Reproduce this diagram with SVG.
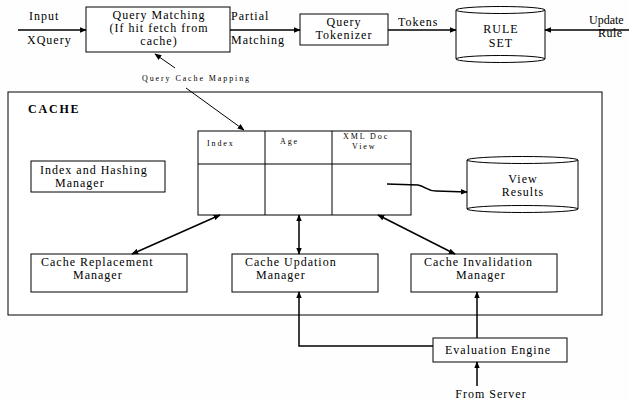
<svg xmlns="http://www.w3.org/2000/svg" width="629" height="402" viewBox="0 0 629 402">
<defs>
<marker id="ah" viewBox="0 0 10 10" refX="9" refY="5" markerWidth="7" markerHeight="7" orient="auto-start-reverse" markerUnits="userSpaceOnUse">
<path d="M0,1 L10,5 L0,9 z" fill="#000"/>
</marker>
<style>
.box{fill:#fff;stroke:#000;stroke-width:1}
.t{font-family:"Liberation Serif","Times New Roman",serif;font-size:12px;fill:#000;letter-spacing:1px}
.c{text-anchor:middle}
.s{font-family:"Liberation Serif","Times New Roman",serif;font-size:8px;fill:#000;letter-spacing:1.9px}
.ln{fill:none;stroke:#000;stroke-width:1.5}
.lt{fill:none;stroke:#000;stroke-width:1}
</style>
</defs>
<rect width="629" height="402" fill="#fefefe"/>

<g id="cache">
<rect class="box" x="8" y="92" width="594" height="223"/>
<text x="28" y="113" style="font-family:'Liberation Serif',serif;font-size:12px;font-weight:bold;letter-spacing:1.8px">CACHE</text>
</g>

<g id="query-matching">
<rect class="box" x="86" y="7" width="144" height="45"/>
<text class="t c" x="159" y="19">Query Matching</text>
<text class="t c" x="159" y="32">(If hit fetch from</text>
<text class="t c" x="159" y="45">cache)</text>
</g>

<g id="query-tokenizer">
<rect class="box" x="300" y="14" width="88" height="31"/>
<text class="t c" x="344" y="26">Query</text>
<text class="t c" x="344" y="39">Tokenizer</text>
</g>

<g id="rule-set">
<path class="box" d="M456,10 L456,59 A44.5,3.5 0 0 0 545,59 L545,10"/>
<ellipse class="box" cx="500.5" cy="10" rx="44.5" ry="3.5"/>
<path class="lt" d="M456,59 A44.5,3.5 0 0 1 545,59"/>
<text class="t c" x="501" y="33">RULE</text>
<text class="t c" x="501" y="47">SET</text>
</g>

<g id="index-hashing">
<rect class="box" x="31" y="161" width="134" height="31"/>
<text class="t" x="40" y="174">Index and Hashing</text>
<text class="t" x="55" y="187">Manager</text>
</g>

<g id="table">
<rect class="box" x="198" y="131" width="213" height="84"/>
<line class="lt" x1="265" y1="131" x2="265" y2="215"/>
<line class="lt" x1="332" y1="131" x2="332" y2="215"/>
<line class="lt" x1="198" y1="164" x2="411" y2="164"/>
<text class="s" x="207" y="146">Index</text>
<text class="s" x="280" y="144">Age</text>
<text class="s" x="343" y="139">XML Doc</text>
<text class="s" x="352" y="149">View</text>
</g>

<g id="view-results">
<path class="box" d="M467,160 L467,209 A55.5,3.5 0 0 0 578,209 L578,160"/>
<ellipse class="box" cx="522.5" cy="160" rx="55.5" ry="3.5"/>
<path class="lt" d="M467,209 A55.5,3.5 0 0 1 578,209"/>
<text class="t c" x="523" y="183">View</text>
<text class="t c" x="523" y="196">Results</text>
</g>

<g id="cache-replacement">
<rect class="box" x="31" y="254" width="156" height="38"/>
<text class="t" x="41" y="266">Cache Replacement</text>
<text class="t" x="73" y="279">Manager</text>
</g>

<g id="cache-updation">
<rect class="box" x="232" y="254" width="146" height="38"/>
<text class="t" x="245" y="266">Cache Updation</text>
<text class="t" x="256" y="279">Manager</text>
</g>

<g id="cache-invalidation">
<rect class="box" x="411" y="254" width="146" height="38"/>
<text class="t" x="424" y="266">Cache Invalidation</text>
<text class="t" x="456" y="279">Manager</text>
</g>

<g id="evaluation-engine">
<rect class="box" x="433" y="338" width="134" height="24"/>
<text class="t c" x="498" y="354">Evaluation Engine</text>
</g>

<g id="labels">
<text class="t" x="29" y="20">Input</text>
<text class="t" x="27" y="44">XQuery</text>
<text class="t" x="231" y="20">Partial</text>
<text class="t" x="231" y="44">Matching</text>
<text class="t" x="398" y="26">Tokens</text>
<text class="t" x="589" y="24" style="letter-spacing:0">Update</text>
<text class="t" x="598" y="37" style="letter-spacing:0.5px">Rule</text>
<text class="s" x="142" y="81">Query Cache Mapping</text>
<text class="t c" x="491" y="398">From Server</text>
</g>

<g id="connectors">
<line class="ln" x1="18" y1="30" x2="86" y2="30" marker-end="url(#ah)"/>
<line class="ln" x1="230" y1="30" x2="300" y2="30" marker-end="url(#ah)"/>
<line class="ln" x1="388" y1="30" x2="456" y2="30" marker-end="url(#ah)"/>
<line class="ln" x1="629" y1="30" x2="545" y2="30" marker-end="url(#ah)"/>
<line class="lt" x1="175" y1="68" x2="155" y2="54" marker-end="url(#ah)"/>
<line class="lt" x1="186" y1="88" x2="244" y2="130" marker-end="url(#ah)"/>
<path class="ln" d="M387,184 L418,185 C425,186 427,191 436,191 L467,192" marker-end="url(#ah)"/>
<line class="ln" x1="220" y1="215" x2="132" y2="254" marker-start="url(#ah)" marker-end="url(#ah)"/>
<line class="ln" x1="299" y1="215" x2="299" y2="254" marker-start="url(#ah)" marker-end="url(#ah)"/>
<line class="ln" x1="378" y1="215" x2="455" y2="254" marker-start="url(#ah)" marker-end="url(#ah)"/>
<line class="ln" x1="477" y1="338" x2="477" y2="292" marker-end="url(#ah)"/>
<polyline class="ln" points="433,346 299,346 299,292" marker-end="url(#ah)"/>
<line class="ln" x1="477" y1="386" x2="477" y2="362" marker-end="url(#ah)"/>
</g>
</svg>
